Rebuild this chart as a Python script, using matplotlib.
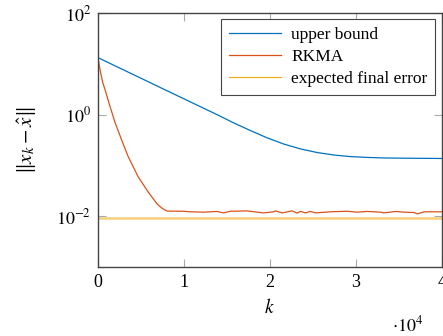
import matplotlib
matplotlib.use('Agg')
import matplotlib.pyplot as plt
import numpy as np

plt.rcParams['font.family'] = ['Liberation Serif', 'DejaVu Serif']
plt.rcParams['mathtext.fontset'] = 'stix'
plt.rcParams['font.size'] = 11

# upper bound
ub_k = [0, 2500, 5000, 7500, 10000, 12500, 13830, 15770, 17720, 19660, 21600,
        23540, 25490, 27420, 29360, 31300, 33240, 36500, 40000]
ub_val = [13.2, 8.27, 5.19, 3.25, 2.04, 1.28, 1.0, 0.687, 0.485, 0.349, 0.263,
          0.211, 0.179, 0.160, 0.149, 0.1435, 0.140, 0.138, 0.1368]

# RKMA
rk_k = [0, 233, 550, 816, 1400, 1980, 2800, 3500, 4660, 5830, 6880, 7500,
        8040, 9950, 10720, 12280, 13830, 14610, 15380, 17330, 19270, 20430,
        20630, 21410, 22570, 23160, 23540, 24130, 24710, 25290, 27040, 28980,
        30150, 31310, 32870, 33250, 34620, 35590, 36750, 37140, 37920, 40000]
rk_val = [13.2, 7.6, 4.3, 3.1, 1.44, 0.70, 0.30, 0.15, 0.060, 0.030, 0.0174, 0.0141,
          0.0126, 0.0125, 0.0122, 0.0120, 0.0124, 0.0116, 0.0125, 0.0127, 0.0116, 0.0122,
          0.0127, 0.0116, 0.0127, 0.0115, 0.0124, 0.0116, 0.0124, 0.0116, 0.0122, 0.0125,
          0.0120, 0.0124, 0.0120, 0.0116, 0.0124, 0.0120, 0.0118, 0.0111, 0.0122, 0.0122]

# expected final error
ef_k = [0, 40000]
ef_val = [0.0093, 0.0093]

fig = plt.figure(figsize=(4.43, 3.36), dpi=100)
ax = fig.add_axes([0.2212, 0.2054, 0.7765, 0.756])

ax.plot(ub_k, ub_val, color='#0072BD', lw=0.9, label='upper bound')
ax.plot(rk_k, rk_val, color='#D95319', lw=0.9, label='RKMA')
ax.plot(ef_k, ef_val, color='#EDB120', lw=1.8, alpha=0.6)
ax.plot([], [], color='#EDB120', lw=0.9, label='expected final error')

ax.set_yscale('log')
ax.set_xlim(0, 40000)
ax.set_ylim(1e-3, 1e2)
ax.set_yticks([1e-2, 1e0, 1e2])
ax.set_yticklabels(['$10^{-2}$', '$10^{0}$', '$10^{2}$'])
ax.yaxis.set_minor_locator(matplotlib.ticker.NullLocator())
ax.set_xticks([0, 10000, 20000, 30000, 40000])
ax.set_xticklabels(['0', '1', '2', '3', '4'])

ax.tick_params(direction='in', length=6, width=0.8, color='#aaaaaa',
               top=True, right=True, labelsize=13, pad=5)
for s in ax.spines.values():
    s.set_color('#444444')
    s.set_linewidth(1.0)

ax.set_xlabel('$k$', fontsize=14, labelpad=5)
ax.set_ylabel(r'$\|x_k - \hat{x}\|$', fontsize=15, labelpad=12)
ax.text(0.901, -0.228, r'$\cdot 10^4$', transform=ax.transAxes, fontsize=13,
        ha='center', va='center')

leg = ax.legend(loc='upper right', bbox_to_anchor=(0.98, 0.976), borderaxespad=0,
                fancybox=False, edgecolor='#444444', framealpha=1, handlelength=3.0,
                fontsize=12.5, borderpad=0.45, labelspacing=0.35, handletextpad=0.6)
leg.get_frame().set_linewidth(0.8)

fig.savefig('out.png', dpi=100)
